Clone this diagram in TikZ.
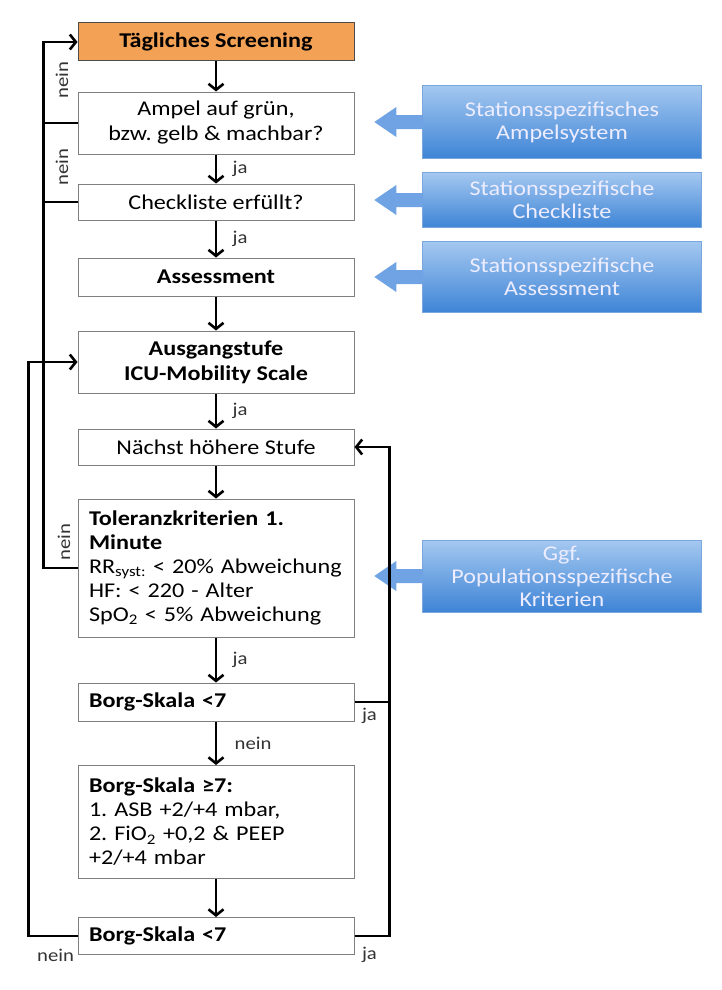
\documentclass[tikz,border=0pt]{standalone}
\usepackage{fontspec}
\setmainfont{Carlito}[FakeStretch=1.15]
\usepackage{tikz}
\usetikzlibrary{arrows.meta}
\frenchspacing

\definecolor{screenorange}{HTML}{F3A155}
\definecolor{boxedge}{HTML}{7F7F7F}
\definecolor{infotop}{HTML}{A4C8F0}
\definecolor{infobot}{HTML}{3E84D6}
\definecolor{infoedge}{HTML}{7AA8DE}
\definecolor{infofill}{HTML}{6FA3E3}

\tikzset{
  box/.style={draw=boxedge, line width=1pt, fill=white, minimum width=276pt,
    align=center, inner sep=4pt, font=\fontsize{21}{25}\selectfont},
  boldbox/.style={box, font=\fontsize{21}{25}\selectfont\bfseries},
  boxleft/.style={box, text width=254pt, inner xsep=11pt, align=left,
    font=\fontsize{21}{24}\selectfont},
  flow/.style={-{Straight Barb[length=6pt,width=15pt]}, line width=2.6pt},
  link/.style={line width=2.6pt},
  lbl/.style={font=\fontsize{18}{20}\selectfont, text=black!80},
  info/.style={draw=infoedge, top color=infotop, bottom color=infobot,
    minimum width=279pt, text=white!93!blue, align=center,
    font=\fontsize{21}{23}\selectfont},
  infotip/.style={fill=infofill}
}

\begin{document}
\begin{tikzpicture}[x=1pt,y=-1pt]
\useasboundingbox (0,0) rectangle (721,990);
% Ablauf
\node[boldbox, fill=screenorange, draw=black!70, minimum height=38pt] (screening) at (216,42) {Tägliches Screening};
\node[box, minimum height=62pt] (ampel) at (216,123) {Ampel auf grün,\\ bzw. gelb \& machbar?};
\node[box, minimum height=36pt] (check) at (216,202) {Checkliste erfüllt?};
\node[boldbox, minimum height=38pt] (assess) at (216,277) {Assessment};
\node[boldbox, minimum height=62pt] (ausgang) at (216,362) {Ausgangstufe\\ ICU-Mobility Scale};
\node[box, minimum height=36pt] (naechst) at (216,447) {Nächst höhere Stufe};
\node[boxleft, minimum height=138pt] (toleranz) at (216,568) {\textbf{Toleranzkriterien 1.}\\ \textbf{Minute}\\ RR\textsubscript{syst:} < 20\% Abweichung\\ HF: < 220 - Alter\\ SpO\textsubscript{2} < 5\% Abweichung};
\node[boxleft, minimum height=38pt] (borgA) at (216,702) {\textbf{Borg-Skala <7}};
\node[boxleft, minimum height=113pt] (borgB) at (216,822) {\textbf{Borg-Skala ≥7:}\\ 1. ASB +2/+4 mbar,\\ 2. FiO\textsubscript{2} +0,2 \& PEEP\\ +2/+4 mbar};
\node[boxleft, minimum height=37pt] (borgC) at (216,936) {\textbf{Borg-Skala <7}};

% Hinweise
\node[info, minimum height=73pt] (infoAmpel) at (562,122) {Stationsspezifisches\\ Ampelsystem};
\node[info, minimum height=55pt] (infoCheck) at (562,200) {Stationsspezifische\\ Checkliste};
\node[info, minimum height=71pt] (infoAssess) at (562,277) {Stationsspezifische\\ Assessment};
\node[info, minimum height=72pt] (infoPop) at (562,576) {Ggf.\\ Populationsspezifische\\ Kriterien};
\foreach \n in {infoAmpel,infoCheck,infoAssess,infoPop}
  \fill[infotip] (\n.west) ++(1,-7) -- ++(-27,0) -- ++(0,-8) -- ++(-22,15) -- ++(22,15) -- ++(0,-8) -- ++(27,0) -- cycle;

% Pfeile
\draw[flow] (screening) -- (ampel);
\draw[flow] (ampel) -- node[lbl, right=12pt] (ja1) {ja} (check);
\draw[flow] (check) -- node[lbl, right=12pt] (ja2) {ja} (assess);
\draw[flow] (assess) -- (ausgang);
\draw[flow] (ausgang) -- node[lbl, right=12pt] (ja3) {ja} (naechst);
\draw[flow] (naechst) -- (toleranz);
\draw[flow] (toleranz) -- node[lbl, right=12pt] (ja4) {ja} (borgA);
\draw[flow] (borgA) -- node[lbl, right=14pt] (nein5) {nein} (borgB);
\draw[flow] (borgB) -- (borgC);

% Rueckfuehrungen
\draw[flow] (toleranz.west) -- ++(-34,0) |- (screening.west);
\draw[link] (ampel.west) -- ++(-34,0);
\draw[link] (check.west) -- ++(-34,0);
\draw[flow] (borgC.west) -- ++(-49,0) |- (ausgang.west);
\draw[flow] (borgC.east) -- ++(35,0) |- (naechst.east);
\draw[link] (borgA.east) -- ++(35,0);

\node[lbl, rotate=90] (nein1) at (62,80) {nein};
\node[lbl, rotate=90] (nein2) at (62,167) {nein};
\node[lbl, rotate=90] (nein3) at (64,542) {nein};
\node[lbl, anchor=east] (nein4) at (borgC.south west) {nein};
\node[lbl, anchor=west] (ja5) at ([xshift=4pt]borgC.south east) {ja};
\node[lbl, anchor=west] (ja6) at ([xshift=4pt,yshift=6pt]borgA.south east) {ja};
\end{tikzpicture}
\end{document}
